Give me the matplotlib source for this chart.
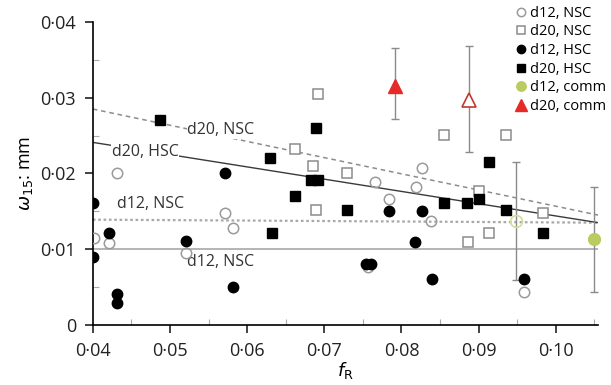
import matplotlib.pyplot as plt
from matplotlib.ticker import FuncFormatter, MultipleLocator

plt.rcParams['font.family'] = ['Open Sans', 'DejaVu Sans']
plt.rcParams['mathtext.fontset'] = 'dejavusans'

# d12, NSC (open circles)
d12_nsc_x = [0.0401, 0.0421, 0.0431, 0.0521, 0.0571, 0.0581, 0.0757, 0.0766, 0.0784,
             0.0819, 0.0827, 0.0838, 0.0959]
d12_nsc_y = [0.0115, 0.0108, 0.0200, 0.0095, 0.0148, 0.0128, 0.0077, 0.0189, 0.0166,
             0.0182, 0.0207, 0.0137, 0.0044]

# d20, NSC (open squares)
d20_nsc_x = [0.0662, 0.0685, 0.0689, 0.0692, 0.0730, 0.0855, 0.0886, 0.0901, 0.0914,
             0.0936, 0.0984]
d20_nsc_y = [0.0232, 0.0210, 0.0152, 0.0305, 0.0201, 0.0251, 0.0110, 0.0177, 0.0121,
             0.0251, 0.0148]

# d12, HSC (filled circles)
d12_hsc_x = [0.0400, 0.0400, 0.0421, 0.0431, 0.0431, 0.0521, 0.0571, 0.0581, 0.0754,
             0.0761, 0.0784, 0.0818, 0.0826, 0.0840, 0.0959]
d12_hsc_y = [0.0161, 0.0090, 0.0121, 0.0041, 0.0029, 0.0111, 0.0200, 0.0050, 0.0080,
             0.0080, 0.0150, 0.0110, 0.0150, 0.0061, 0.0061]

# d20, HSC (filled squares)
d20_hsc_x = [0.0487, 0.0630, 0.0632, 0.0662, 0.0683, 0.0689, 0.0692, 0.0730, 0.0855,
             0.0885, 0.0901, 0.0914, 0.0936, 0.0984]
d20_hsc_y = [0.0270, 0.0220, 0.0121, 0.0170, 0.0191, 0.0260, 0.0191, 0.0152, 0.0161,
             0.0161, 0.0166, 0.0215, 0.0152, 0.0121]

# commercial products with ranges
d12_comm_x, d12_comm_y = [0.1049], [0.0113]
d12_comm_lo, d12_comm_hi = [0.0044], [0.0182]
d12_comm_open_x, d12_comm_open_y = [0.0949], [0.0137]
d12_comm_open_lo, d12_comm_open_hi = [0.0059], [0.0215]
d20_comm_x, d20_comm_y = [0.0791], [0.0316]
d20_comm_lo, d20_comm_hi = [0.0272], [0.0366]
d20_comm_open_x, d20_comm_open_y = [0.0888], [0.0297]
d20_comm_open_lo, d20_comm_open_hi = [0.0228], [0.0368]

# trend lines (start/end values)
line_x = [0.040, 0.1055]
d12_nsc_solid = [0.0100, 0.0100]
d12_nsc_dotted = [0.0139, 0.0135]
d20_nsc_dashed = [0.0285, 0.0145]
d20_hsc_solid = [0.0241, 0.0135]

fig = plt.figure(figsize=(6.11, 3.85), dpi=100)
ax = fig.add_axes([0.152, 0.156, 0.827, 0.787])

ax.plot(line_x, d12_nsc_solid, color='#a0a0a0', lw=1.1, zorder=1)
ax.plot(line_x, d12_nsc_dotted, color='#a8a8a8', lw=1.6, ls=(0, (1.2, 1.2)), zorder=1)
ax.plot(line_x, d20_nsc_dashed, color='#8c8c8c', lw=1.1, ls=(0, (3, 2.5)), zorder=1)
ax.plot(line_x, d20_hsc_solid, color='#3a3a3a', lw=1.0, zorder=1)

lbl = dict(fontsize=11.5, color='#333333', ha='center', va='center', zorder=2)
ax.text(0.0566, 0.0257, 'd20, NSC', bbox=dict(fc='white', ec='none', pad=0.5), **lbl)
ax.text(0.0468, 0.0228, 'd20, HSC', bbox=dict(fc='white', ec='none', pad=0.5), **lbl)
ax.text(0.0475, 0.0159, 'd12, NSC', **lbl)
ax.text(0.0565, 0.0083, 'd12, NSC', **lbl)

def errbar(x, y, lo, hi):
    yerr = [[yy - l for yy, l in zip(y, lo)], [h - yy for yy, h in zip(y, hi)]]
    ax.errorbar(x, y, yerr=yerr, fmt='none', ecolor='#8a8a8a', elinewidth=1.0,
                capsize=3, capthick=1.0, zorder=2)

errbar(d12_comm_x, d12_comm_y, d12_comm_lo, d12_comm_hi)
errbar(d12_comm_open_x, d12_comm_open_y, d12_comm_open_lo, d12_comm_open_hi)
errbar(d20_comm_x, d20_comm_y, d20_comm_lo, d20_comm_hi)
errbar(d20_comm_open_x, d20_comm_open_y, d20_comm_open_lo, d20_comm_open_hi)

ms = 7.5
ax.plot(d12_nsc_x, d12_nsc_y, 'o', ms=ms, mfc='none', mec='#9a9a9a', mew=1.1,
        label='d12, NSC', zorder=3)
ax.plot(d20_nsc_x, d20_nsc_y, 's', ms=ms - 0.5, mfc='white', mec='#8c8c8c', mew=1.1,
        label='d20, NSC', zorder=3)
ax.plot(d12_hsc_x, d12_hsc_y, 'o', ms=ms, mfc='black', mec='black',
        label='d12, HSC', zorder=4)
ax.plot(d20_hsc_x, d20_hsc_y, 's', ms=ms - 0.5, mfc='black', mec='black',
        label='d20, HSC', zorder=4)
ax.plot(d12_comm_x, d12_comm_y, 'o', ms=ms + 1, mfc='#b9cc62', mec='#b9cc62',
        label='d12, comm', zorder=4, clip_on=False)
ax.plot(d12_comm_open_x, d12_comm_open_y, 'o', ms=ms + 1, mfc='none', mec='#d2dd9a',
        mew=1.2, zorder=4)
ax.plot(d20_comm_x, d20_comm_y, '^', ms=ms + 3, mfc='#e52a28', mec='#e52a28',
        label='d20, comm', zorder=4)
ax.plot(d20_comm_open_x, d20_comm_open_y, '^', ms=ms + 3, mfc='white', mec='#c0392b',
        mew=1.2, zorder=4)

ax.set_xlim(0.04, 0.1055)
ax.set_ylim(0, 0.04)
for s in ['top', 'right']:
    ax.spines[s].set_visible(False)
for s in ['left', 'bottom']:
    ax.spines[s].set_linewidth(1.2)

ax.xaxis.set_major_locator(MultipleLocator(0.01))
ax.xaxis.set_minor_locator(MultipleLocator(0.005))
ax.yaxis.set_major_locator(MultipleLocator(0.01))
ax.yaxis.set_minor_locator(MultipleLocator(0.005))

def dotfmt(v, pos):
    if abs(v) < 1e-12:
        return '0'
    return f'{v:.2f}'.replace('.', '\u00b7')

ax.xaxis.set_major_formatter(FuncFormatter(dotfmt))
ax.yaxis.set_major_formatter(FuncFormatter(dotfmt))
ax.tick_params(which='major', direction='out', length=6, width=1.2, labelsize=13,
               colors='#222222', pad=6)
ax.tick_params(which='minor', direction='in', length=4, width=0.8, color='#aaaaaa')

ax.set_xlabel(r'$f_{\mathrm{R}}$', fontsize=13, labelpad=0)
ax.set_ylabel(r'$\omega_{15}$: mm', fontsize=13, labelpad=4)

ax.legend(loc='upper left', bbox_to_anchor=(0.843, 0.985), bbox_transform=fig.transFigure,
          frameon=False, fontsize=10.5, handlelength=0.8, handletextpad=0.2,
          labelspacing=0.25, markerscale=0.8, borderpad=0, borderaxespad=0)

fig.savefig('out.png', dpi=100)
